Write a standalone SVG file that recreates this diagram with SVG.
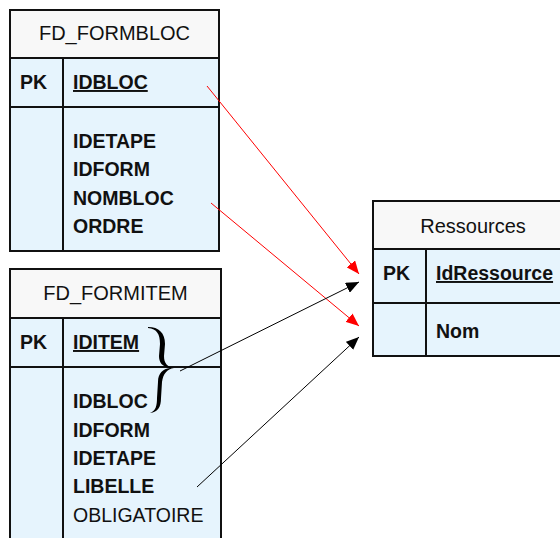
<svg xmlns="http://www.w3.org/2000/svg" width="560" height="538" viewBox="0 0 560 538">
<defs>
<style>
.hdr{fill:#f8f8f8;stroke:#111;stroke-width:2}
.body{fill:#e6f4fd;stroke:#111;stroke-width:2}
.ln{stroke:#111;stroke-width:2;fill:none}
.t{font-family:"Liberation Sans",Arial,sans-serif;font-size:20px;fill:#111}
.b{font-family:"Liberation Sans",Arial,sans-serif;font-size:19.5px;font-weight:bold;fill:#111}
.r{font-family:"Liberation Sans",Arial,sans-serif;font-size:19.5px;fill:#111}
.u{text-decoration:underline}
</style>
<marker id="ar" markerWidth="14" markerHeight="11" refX="13" refY="5.5" orient="auto" markerUnits="userSpaceOnUse">
<path d="M0,0 L13,5.5 L0,11 Z" fill="#ff0000"/>
</marker>
<marker id="ak" markerWidth="14" markerHeight="11" refX="13" refY="5.5" orient="auto" markerUnits="userSpaceOnUse">
<path d="M0,0 L13,5.5 L0,11 Z" fill="#000"/>
</marker>
</defs>
<rect width="560" height="538" fill="#fff"/>
<g id="fd_formbloc">
<rect class="hdr" x="10" y="10" width="209" height="48"/>
<rect class="body" x="10" y="58" width="209" height="193"/>
<line class="ln" x1="10" y1="107" x2="219" y2="107"/>
<line class="ln" x1="63" y1="58" x2="63" y2="251"/>
<text class="t" x="114.5" y="40" text-anchor="middle">FD_FORMBLOC</text>
<text class="b" x="20" y="89">PK</text>
<text class="b u" x="73" y="89">IDBLOC</text>
<text class="b" x="73" y="148">IDETAPE</text>
<text class="b" x="73" y="176">IDFORM</text>
<text class="b" x="73" y="205">NOMBLOC</text>
<text class="b" x="73" y="233">ORDRE</text>
</g>
<g id="fd_formitem">
<rect class="hdr" x="10" y="269" width="211" height="49"/>
<rect class="body" x="10" y="318" width="211" height="240"/>
<line class="ln" x1="10" y1="367" x2="221" y2="367"/>
<line class="ln" x1="63" y1="318" x2="63" y2="558"/>
<text class="t" x="115.5" y="300" text-anchor="middle">FD_FORMITEM</text>
<text class="b" x="20" y="349">PK</text>
<text class="b u" x="73" y="349">IDITEM</text>
<text class="b" x="73" y="408">IDBLOC</text>
<text class="b" x="73" y="437">IDFORM</text>
<text class="b" x="73" y="465">IDETAPE</text>
<text class="b" x="73" y="493">LIBELLE</text>
<text class="r" x="73" y="522">OBLIGATOIRE</text>
<path d="M148,327 C159,327 165,333 165,344 L164,356 C164,363 167,367 174,368 C167,369 163,374 162,382 L161,398 C161,407 158,412 150,413 C156,411 157,405 157,398 L158,382 C158,373 163,369 170,368 C162,367 159,362 159,356 L160,344 C160,334 157,329 148,328 Z" fill="#000"/>
</g>
<g id="ressources">
<rect class="hdr" x="373" y="201" width="200" height="48"/>
<rect class="body" x="373" y="249" width="200" height="107"/>
<line class="ln" x1="373" y1="303" x2="573" y2="303"/>
<line class="ln" x1="426" y1="249" x2="426" y2="356"/>
<text class="t" x="473" y="233" text-anchor="middle">Ressources</text>
<text class="b" x="383" y="280">PK</text>
<text class="b u" x="436" y="280">IdRessource</text>
<text class="b" x="436" y="338">Nom</text>
</g>
<g id="connectors">
<line x1="207" y1="86" x2="359" y2="274" stroke="#ff0000" stroke-width="1" marker-end="url(#ar)"/>
<line x1="211" y1="203" x2="359" y2="326" stroke="#ff0000" stroke-width="1" marker-end="url(#ar)"/>
<line x1="180" y1="371" x2="359" y2="282" stroke="#000" stroke-width="1" marker-end="url(#ak)"/>
<line x1="197" y1="487" x2="359" y2="337" stroke="#000" stroke-width="1" marker-end="url(#ak)"/>
</g>
</svg>
